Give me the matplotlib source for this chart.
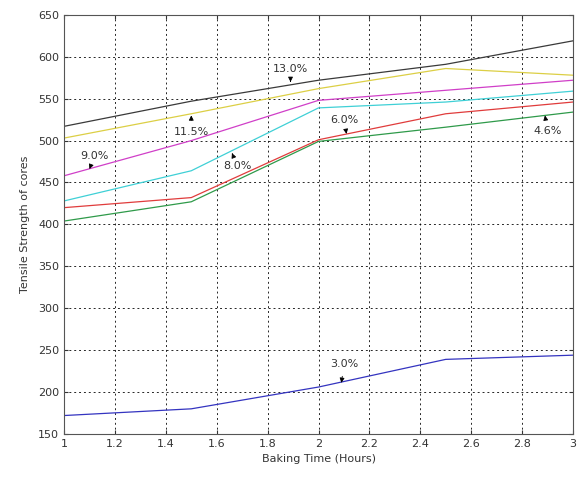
import matplotlib
matplotlib.use("Agg")
import matplotlib.pyplot as plt

# baking time (hours) and tensile strength per moisture level
hours = [1.0, 1.5, 2.0, 2.5, 3.0]
s_13_0 = [517, 547, 572, 591, 619]
s_11_5 = [503, 532, 562, 586, 578]
s_9_0 = [458, 500, 548, 560, 572]
s_8_0 = [428, 464, 539, 546, 559]
s_6_0 = [420, 432, 501, 532, 546]
s_4_6 = [404, 427, 499, 516, 534]
s_3_0 = [172, 180, 206, 239, 244]

x_ticks = [1, 1.2, 1.4, 1.6, 1.8, 2, 2.2, 2.4, 2.6, 2.8, 3]
x_tick_labels = ["1", "1.2", "1.4", "1.6", "1.8", "2", "2.2", "2.4", "2.6", "2.8", "3"]
y_ticks = [150, 200, 250, 300, 350, 400, 450, 500, 550, 600, 650]

series = [
    (s_13_0, "#3a3a3a"),
    (s_11_5, "#dccf45"),
    (s_9_0, "#d03fc8"),
    (s_8_0, "#3fd0d6"),
    (s_4_6, "#2f9a4a"),
    (s_6_0, "#e03c3c"),
    (s_3_0, "#3434c0"),
]

# (label, point on curve, text position)
labels = [
    ("13.0%", (1.89, 570), (1.89, 585)),
    ("11.5%", (1.50, 530), (1.50, 510)),
    ("9.0%", (1.10, 466), (1.12, 482)),
    ("8.0%", (1.66, 485), (1.68, 470)),
    ("6.0%", (2.11, 508), (2.10, 525)),
    ("4.6%", (2.89, 530), (2.90, 511)),
    ("3.0%", (2.09, 211), (2.10, 233)),
]

plt.rcParams["font.family"] = ["DejaVu Sans"]
plt.rcParams["font.size"] = 8

fig = plt.figure(figsize=(5.77, 4.79), dpi=100)
ax = fig.add_axes([0.111, 0.094, 0.882, 0.875])

for vals, color in series:
    ax.plot(hours, vals, color=color, linewidth=0.9)

for text, xy, xytext in labels:
    ax.annotate(
        text,
        xy=xy,
        xytext=xytext,
        ha="center",
        va="center",
        fontsize=8,
        color="#333333",
        arrowprops=dict(arrowstyle="-|>", color="k", lw=0.6,
                        mutation_scale=7, shrinkA=3, shrinkB=0),
    )

ax.set_xlim(1, 3)
ax.set_ylim(150, 650)
ax.set_xticks(x_ticks)
ax.set_xticklabels(x_tick_labels)
ax.set_yticks(y_ticks)
ax.tick_params(direction="in", top=True, right=True, length=3,
               colors="#333333", labelsize=8)
ax.grid(True, color="k", linestyle=(0, (2, 3)), linewidth=0.7, alpha=0.85)
for sp in ax.spines.values():
    sp.set_color("#555555")
    sp.set_linewidth(0.8)

ax.set_xlabel("Baking Time (Hours)", color="#333333", fontsize=8, labelpad=4)
ax.set_ylabel("Tensile Strength of cores", color="#333333", fontsize=8, labelpad=6)

fig.savefig("out.png", dpi=100)
